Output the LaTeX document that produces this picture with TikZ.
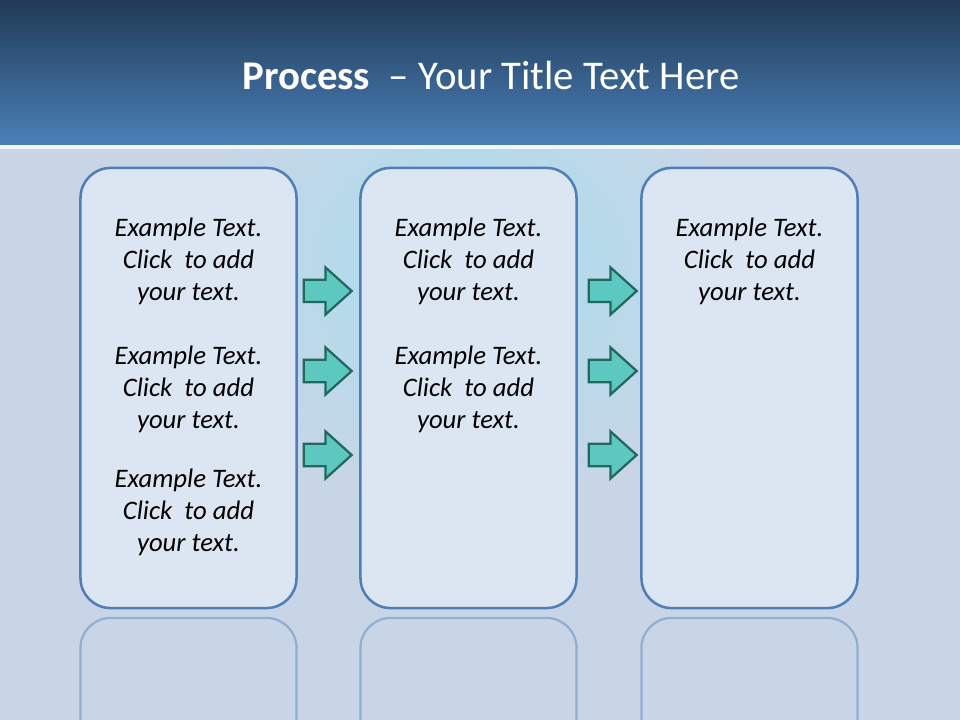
\documentclass[tikz,border=0pt]{standalone}
\usepackage{fontspec}
\setmainfont{Carlito}
\usepackage{tikz}
\usetikzlibrary{shapes.arrows, positioning, calc}
\definecolor{headtop}{RGB}{33, 58, 87}
\definecolor{headbot}{RGB}{74, 128, 184}
\definecolor{bodybg}{RGB}{200, 213, 230}
\definecolor{bodycyan}{RGB}{168, 222, 238}
\definecolor{boxblue}{RGB}{80, 127, 184}
\definecolor{boxfill}{RGB}{220, 230, 242}
\definecolor{arrowteal}{RGB}{92, 200, 192}
\definecolor{arrowedge}{RGB}{34, 104, 96}

\begin{document}
\begin{tikzpicture}[
    x=0.025cm, y=-0.025cm,
    stage/.style={
        rectangle, rounded corners=0.75cm, draw=boxblue, fill=boxfill, line width=1.8pt,
        minimum width=5.4cm, minimum height=11cm, inner sep=0pt
    },
    mirror/.style={
        rectangle, rounded corners=0.75cm, draw=boxblue!45!bodybg, line width=1.6pt,
        minimum width=5.4cm, minimum height=5cm, inner sep=0pt
    },
    stagetext/.style={
        align=center, font=\fontsize{19}{22.8}\selectfont\itshape, text=black, inner sep=0pt
    },
    flowarrow/.style={
        single arrow, draw=arrowedge, fill=arrowteal, line width=1.6pt,
        minimum height=1.2cm, inner xsep=0pt, inner ysep=0.25cm,
        single arrow head extend=0.31cm, single arrow tip angle=84
    },
    title_text/.style={text=white, inner sep=0pt, font=\fontsize{29}{34}\selectfont}
]

    % Background: header band and textured body
    \useasboundingbox (0,0) rectangle (960,720);
    \shade[top color=headtop, bottom color=headbot] (0,0) rectangle (960,145);
    \fill[bodybg] (0,145) rectangle (960,720);
    \begin{scope}
        \clip (0,149) rectangle (960,720);
        \shade[inner color=bodycyan, outer color=bodybg] (470,270) ellipse (290 and 250);
    \end{scope}
    \fill[white!80!bodybg] (0,145) rectangle (960,149);

    % Title
    \node[title_text] (title) at (491,75) {\textbf{Process}\ \ -- Your Title Text Here};

    % Reflections of the three columns
    \begin{scope}
        \clip (0,612) rectangle (960,720);
        \node[mirror] (refl1) at (188.5,718) {};
        \node[mirror] (refl2) at (468.5,718) {};
        \node[mirror] (refl3) at (749.5,718) {};
    \end{scope}

    % Three columns
    \node[stage] (col1) at (188.5,388) {};
    \node[stage] (col2) at (468.5,388) {};
    \node[stage] (col3) at (749.5,388) {};

    % Column texts
    \node[stagetext] (t11) at (188.5,261) {Example Text.\\ Click\ \ to add\\ your text.};
    \node[stagetext] (t12) at (188.5,389) {Example Text.\\ Click\ \ to add\\ your text.};
    \node[stagetext] (t13) at (188.5,512) {Example Text.\\ Click\ \ to add\\ your text.};
    \node[stagetext] (t21) at (468.5,261) {Example Text.\\ Click\ \ to add\\ your text.};
    \node[stagetext] (t22) at (468.5,389) {Example Text.\\ Click\ \ to add\\ your text.};
    \node[stagetext] (t31) at (749.5,261) {Example Text.\\ Click\ \ to add\\ your text.};

    % Block arrows between the columns
    \foreach \yy/\nm in {291/a, 371/b, 455/c} {
        \node[flowarrow] (arr1\nm) at (321.5,\yy) {};
        \node[flowarrow] (arr2\nm) at (606.5,\yy) {};
    }

\end{tikzpicture}
\end{document}
